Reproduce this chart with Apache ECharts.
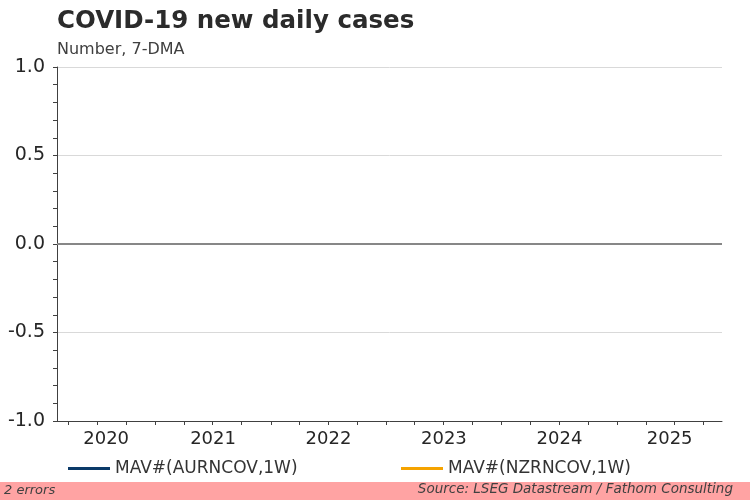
<!DOCTYPE html>
<html>
<head>
<meta charset="utf-8">
<script src="https://cdn.jsdelivr.net/npm/echarts@6/dist/echarts.min.js"></script>
<style>
  html, body { margin: 0; padding: 0; background: #fff; }
  #chart { width: 750px; height: 500px; }
</style>
</head>
<body>
<div id="chart"></div>
<script>
// series came back empty from the data source, so nothing to plot
const seriesNames = ['MAV#(AURNCOV,1W)', 'MAV#(NZRNCOV,1W)'];
const aurnValues = [];
const nzrnValues = [];

const yearLabels = ['2020', '2021', '2022', '2023', '2024', '2025'];
const startDate = '2020-02-25';
const endDate = '2025-11-28';

const FONT = 'DejaVu Sans, Liberation Sans, sans-serif';
const COLORS = ['#0b3a68', '#f5a300'];

const t = (s) => new Date(s + 'T00:00:00Z').getTime();
const xMin = t(startDate);
const xMax = t(endDate);

// year labels sit in the middle of the visible part of each year
const labelPos = yearLabels.map((y) => {
  const a = Math.max(t(y + '-01-01'), xMin);
  const b = Math.min(t((+y + 1) + '-01-01'), xMax);
  return (a + b) / 2;
});
// quarterly ticks
const tickPos = [];
yearLabels.forEach((y) => {
  ['01', '04', '07', '10'].forEach((m) => {
    const v = t(y + '-' + m + '-01');
    if (v > xMin && v < xMax) tickPos.push(v);
  });
});

const chart = echarts.init(document.getElementById('chart'));
chart.setOption({
  backgroundColor: '#fff',
  color: COLORS,
  textStyle: { fontFamily: FONT },
  animation: false,
  title: {
    text: 'COVID-19 new daily cases',
    subtext: 'Number, 7-DMA',
    left: 52,
    top: 4,
    itemGap: 8,
    textStyle: { fontSize: 24.5, fontWeight: 'bold', color: '#2b2b2b', fontFamily: FONT },
    subtextStyle: { fontSize: 16, color: '#404040', fontFamily: FONT }
  },
  legend: [
    {
      data: [seriesNames[0]],
      left: 63, top: 455,
      icon: 'rect', itemWidth: 42, itemHeight: 3,
      textStyle: { fontSize: 17, color: '#333', fontFamily: FONT }
    },
    {
      data: [seriesNames[1]],
      left: 396, top: 455,
      icon: 'rect', itemWidth: 42, itemHeight: 3,
      textStyle: { fontSize: 17, color: '#333', fontFamily: FONT }
    }
  ],
  grid: { left: 57, right: 28, top: 67, bottom: 79, containLabel: false },
  xAxis: {
    type: 'value',
    min: xMin,
    max: xMax,
    axisLine: { show: true, onZero: false, lineStyle: { color: '#404040', width: 1 } },
    axisTick: { show: true, length: 4, customValues: tickPos, lineStyle: { color: '#404040' } },
    axisLabel: {
      customValues: labelPos,
      margin: 9,
      fontSize: 18,
      color: '#262626',
      fontFamily: FONT,
      formatter: (v) => String(new Date(v).getUTCFullYear())
    },
    splitLine: { show: false }
  },
  yAxis: {
    type: 'value',
    min: -1,
    max: 1,
    interval: 0.5,
    axisLine: { show: true, lineStyle: { color: '#404040' } },
    axisTick: { show: true, length: 4, lineStyle: { color: '#404040' } },
    minorTick: { show: true, splitNumber: 5, length: 4, lineStyle: { color: '#404040' } },
    axisLabel: {
      margin: 12,
      fontSize: 19,
      color: '#262626',
      fontFamily: FONT,
      formatter: (v) => v.toFixed(1)
    },
    splitLine: { show: true, lineStyle: { color: '#d9d9d9', width: 1 } }
  },
  series: [
    {
      name: seriesNames[0],
      type: 'line',
      data: aurnValues,
      showSymbol: false,
      lineStyle: { width: 2 },
      markLine: {
        silent: true,
        symbol: 'none',
        label: { show: false },
        lineStyle: { color: '#878787', width: 2, type: 'solid' },
        data: [{ yAxis: 0 }]
      }
    },
    {
      name: seriesNames[1],
      type: 'line',
      data: nzrnValues,
      showSymbol: false,
      lineStyle: { width: 2 }
    }
  ],
  graphic: [
    {
      type: 'rect',
      left: 0, top: 482,
      shape: { width: 750, height: 18 },
      style: { fill: '#ffa3a3' },
      silent: true
    },
    {
      type: 'text',
      left: 4, top: 484,
      style: { text: '2 errors', fontSize: 13, fontStyle: 'italic', fill: '#404040', fontFamily: FONT }
    },
    {
      type: 'text',
      right: 17, top: 482,
      style: { text: 'Source: LSEG Datastream / Fathom Consulting', fontSize: 13.5, fontStyle: 'italic', fill: '#404040', fontFamily: FONT }
    }
  ]
});
</script>
</body>
</html>
